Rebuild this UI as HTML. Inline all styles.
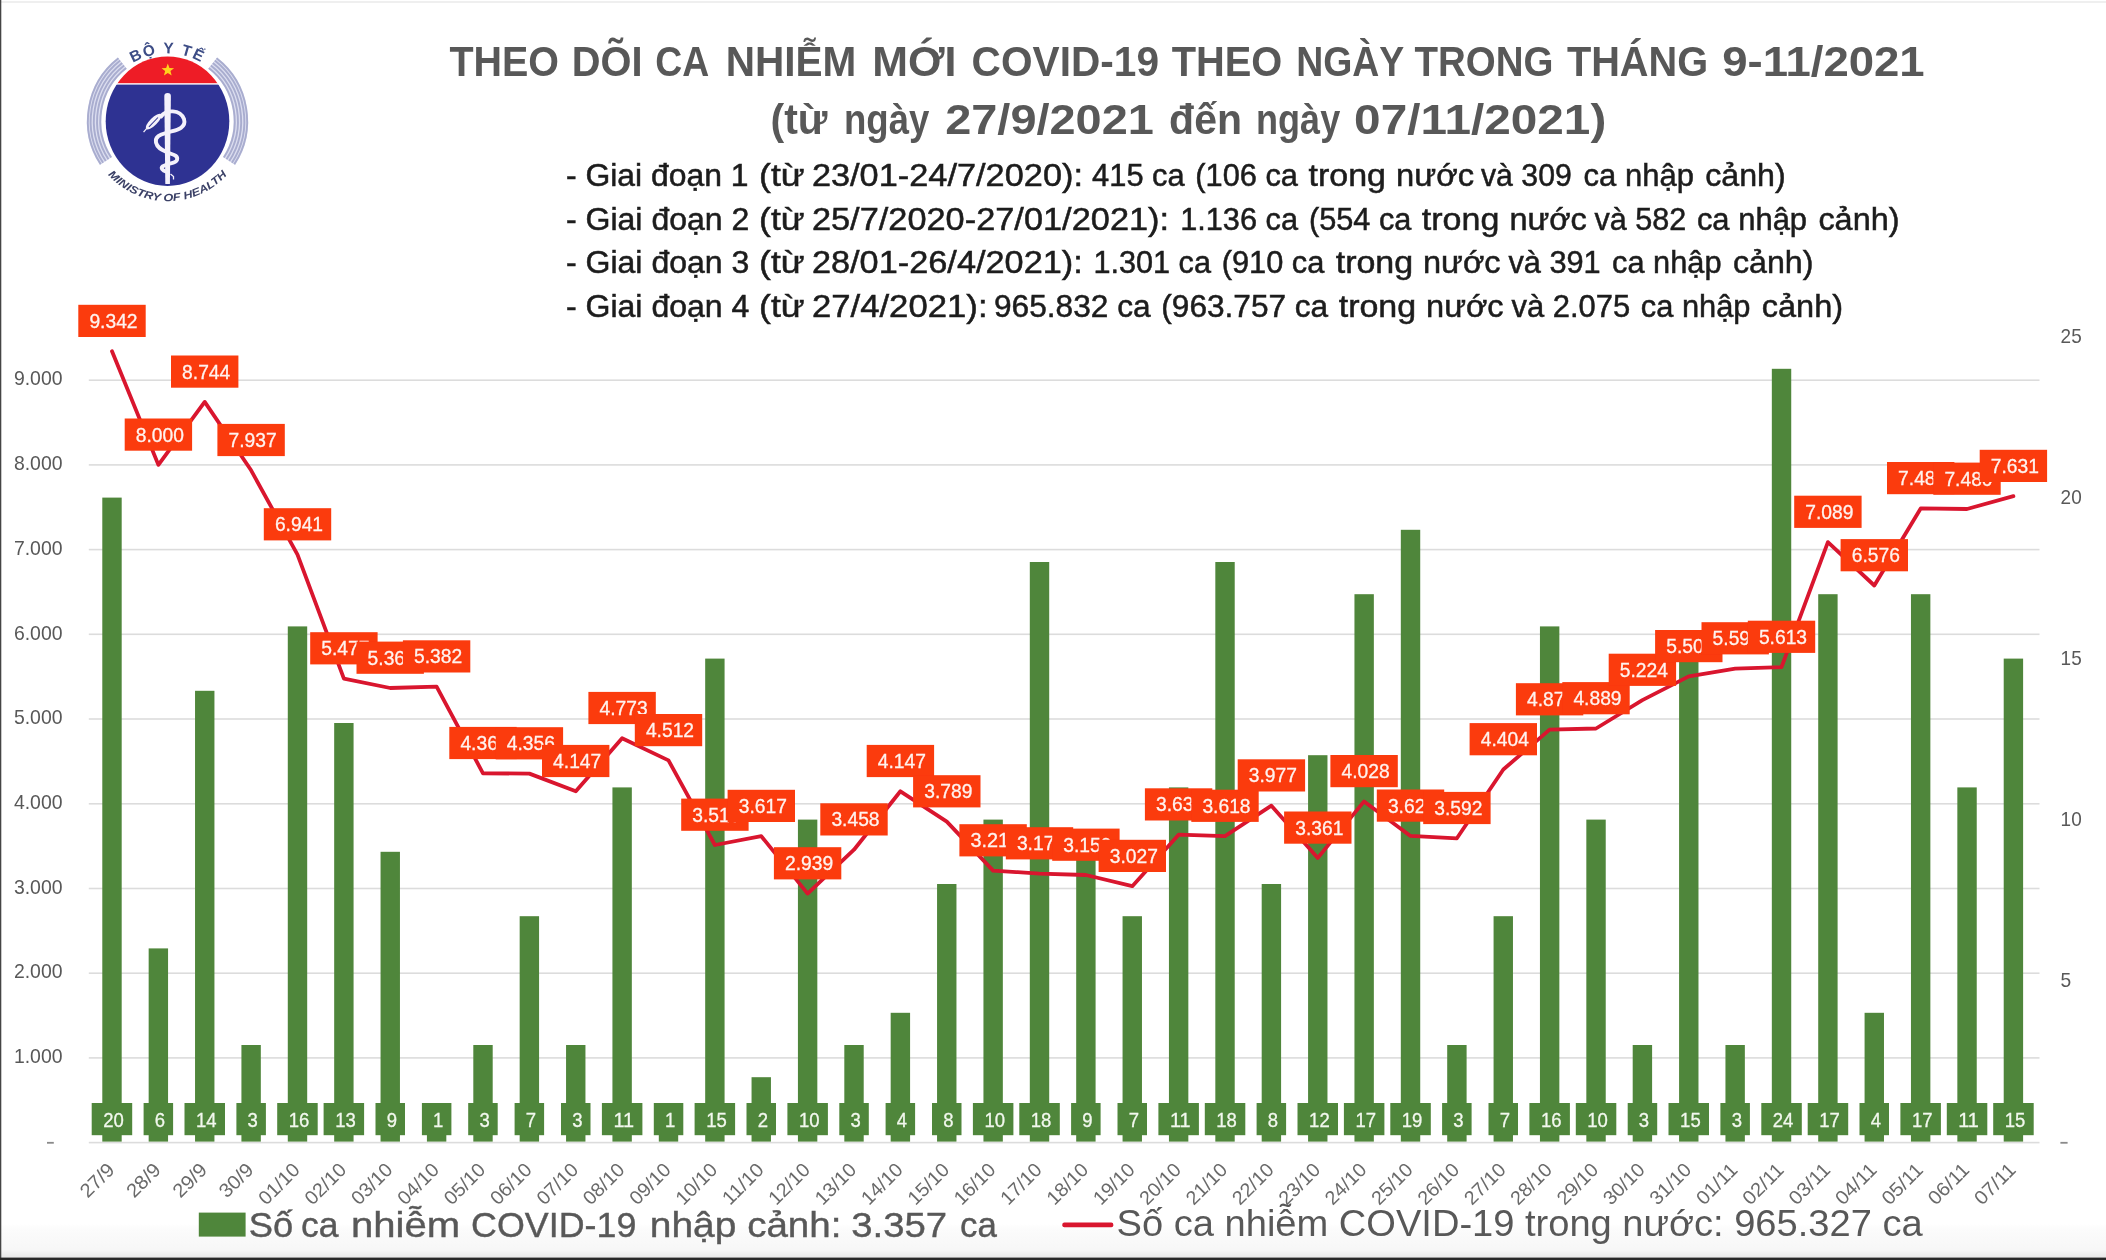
<!DOCTYPE html>
<html lang="vi"><head><meta charset="utf-8"><title>COVID-19</title>
<style>html,body{margin:0;padding:0;background:#fff}svg{display:block}</style></head>
<body>
<svg width="2106" height="1260" viewBox="0 0 2106 1260" font-family='"Liberation Sans", sans-serif'>
<defs><linearGradient id="bg" x1="0" y1="0" x2="0" y2="1"><stop offset="0" stop-color="#ffffff"/><stop offset="0.12" stop-color="#fcfcfc"/><stop offset="0.75" stop-color="#f7f7f7"/><stop offset="1" stop-color="#e6e6e6"/></linearGradient></defs>
<rect width="2106" height="1260" fill="#fff"/>
<filter id="soft" x="0" y="0" width="2106" height="1260" filterUnits="userSpaceOnUse"><feGaussianBlur stdDeviation="0.6"/></filter>
<g filter="url(#soft)">
<rect x="-5" y="-5" width="2116" height="1270" fill="#fff"/>
<rect x="0" y="1224" width="2106" height="34" fill="url(#bg)"/>
<rect x="0" y="1" width="2106" height="2" fill="#efefef"/>
<rect x="88.8" y="1141.8" width="1950.7" height="1.6" fill="#dcdcdc"/>
<rect x="88.8" y="1057.1" width="1950.7" height="1.6" fill="#dcdcdc"/>
<rect x="88.8" y="972.4" width="1950.7" height="1.6" fill="#dcdcdc"/>
<rect x="88.8" y="887.7" width="1950.7" height="1.6" fill="#dcdcdc"/>
<rect x="88.8" y="803.0" width="1950.7" height="1.6" fill="#dcdcdc"/>
<rect x="88.8" y="718.2" width="1950.7" height="1.6" fill="#dcdcdc"/>
<rect x="88.8" y="633.5" width="1950.7" height="1.6" fill="#dcdcdc"/>
<rect x="88.8" y="548.8" width="1950.7" height="1.6" fill="#dcdcdc"/>
<rect x="88.8" y="464.1" width="1950.7" height="1.6" fill="#dcdcdc"/>
<rect x="88.8" y="379.4" width="1950.7" height="1.6" fill="#dcdcdc"/>
<rect x="102.29" y="497.60" width="19.40" height="644.00" fill="#50863b"/>
<rect x="148.66" y="948.40" width="19.40" height="193.20" fill="#50863b"/>
<rect x="195.04" y="690.80" width="19.40" height="450.80" fill="#50863b"/>
<rect x="241.42" y="1045.00" width="19.40" height="96.60" fill="#50863b"/>
<rect x="287.79" y="626.40" width="19.40" height="515.20" fill="#50863b"/>
<rect x="334.17" y="723.00" width="19.40" height="418.60" fill="#50863b"/>
<rect x="380.55" y="851.80" width="19.40" height="289.80" fill="#50863b"/>
<rect x="426.92" y="1109.40" width="19.40" height="32.20" fill="#50863b"/>
<rect x="473.30" y="1045.00" width="19.40" height="96.60" fill="#50863b"/>
<rect x="519.67" y="916.20" width="19.40" height="225.40" fill="#50863b"/>
<rect x="566.05" y="1045.00" width="19.40" height="96.60" fill="#50863b"/>
<rect x="612.43" y="787.40" width="19.40" height="354.20" fill="#50863b"/>
<rect x="658.80" y="1109.40" width="19.40" height="32.20" fill="#50863b"/>
<rect x="705.18" y="658.60" width="19.40" height="483.00" fill="#50863b"/>
<rect x="751.55" y="1077.20" width="19.40" height="64.40" fill="#50863b"/>
<rect x="797.93" y="819.60" width="19.40" height="322.00" fill="#50863b"/>
<rect x="844.31" y="1045.00" width="19.40" height="96.60" fill="#50863b"/>
<rect x="890.68" y="1012.80" width="19.40" height="128.80" fill="#50863b"/>
<rect x="937.06" y="884.00" width="19.40" height="257.60" fill="#50863b"/>
<rect x="983.44" y="819.60" width="19.40" height="322.00" fill="#50863b"/>
<rect x="1029.81" y="562.00" width="19.40" height="579.60" fill="#50863b"/>
<rect x="1076.19" y="851.80" width="19.40" height="289.80" fill="#50863b"/>
<rect x="1122.56" y="916.20" width="19.40" height="225.40" fill="#50863b"/>
<rect x="1168.94" y="787.40" width="19.40" height="354.20" fill="#50863b"/>
<rect x="1215.32" y="562.00" width="19.40" height="579.60" fill="#50863b"/>
<rect x="1261.69" y="884.00" width="19.40" height="257.60" fill="#50863b"/>
<rect x="1308.07" y="755.20" width="19.40" height="386.40" fill="#50863b"/>
<rect x="1354.45" y="594.20" width="19.40" height="547.40" fill="#50863b"/>
<rect x="1400.82" y="529.80" width="19.40" height="611.80" fill="#50863b"/>
<rect x="1447.20" y="1045.00" width="19.40" height="96.60" fill="#50863b"/>
<rect x="1493.57" y="916.20" width="19.40" height="225.40" fill="#50863b"/>
<rect x="1539.95" y="626.40" width="19.40" height="515.20" fill="#50863b"/>
<rect x="1586.33" y="819.60" width="19.40" height="322.00" fill="#50863b"/>
<rect x="1632.70" y="1045.00" width="19.40" height="96.60" fill="#50863b"/>
<rect x="1679.08" y="658.60" width="19.40" height="483.00" fill="#50863b"/>
<rect x="1725.45" y="1045.00" width="19.40" height="96.60" fill="#50863b"/>
<rect x="1771.83" y="368.80" width="19.40" height="772.80" fill="#50863b"/>
<rect x="1818.21" y="594.20" width="19.40" height="547.40" fill="#50863b"/>
<rect x="1864.58" y="1012.80" width="19.40" height="128.80" fill="#50863b"/>
<rect x="1910.96" y="594.20" width="19.40" height="547.40" fill="#50863b"/>
<rect x="1957.34" y="787.40" width="19.40" height="354.20" fill="#50863b"/>
<rect x="2003.71" y="658.60" width="19.40" height="483.00" fill="#50863b"/>
<polyline points="112.0,351.2 158.4,464.9 204.7,401.9 251.1,470.3 297.5,554.6 343.9,678.6 390.2,688.0 436.6,686.7 483.0,773.3 529.4,773.6 575.8,791.3 622.1,738.3 668.5,760.4 714.9,845.0 761.3,836.2 807.6,893.6 854.0,849.7 900.4,791.3 946.8,821.6 993.1,870.6 1039.5,873.6 1085.9,875.0 1132.3,886.2 1178.6,834.7 1225.0,836.1 1271.4,805.7 1317.8,857.9 1364.1,801.4 1410.5,835.9 1456.9,838.3 1503.3,769.5 1549.6,729.6 1596.0,728.5 1642.4,700.1 1688.8,676.4 1735.2,668.6 1781.5,667.1 1827.9,542.1 1874.3,585.5 1920.7,508.4 1967.0,509.0 2013.4,496.2" fill="none" stroke="#d9142f" stroke-width="3.8" stroke-linejoin="round" stroke-linecap="round"/>
<rect x="91.7" y="1103" width="40.5" height="32.2" fill="#50863b"/>
<text x="113.6" y="1126.8" font-size="20" fill="#f2f8ee" stroke="#f2f8ee" stroke-width="0.3" text-anchor="middle" textLength="20.6" lengthAdjust="spacingAndGlyphs">20</text>
<rect x="143.6" y="1103" width="29.5" height="32.2" fill="#50863b"/>
<text x="160.0" y="1126.8" font-size="20" fill="#f2f8ee" stroke="#f2f8ee" stroke-width="0.3" text-anchor="middle" textLength="10.3" lengthAdjust="spacingAndGlyphs">6</text>
<rect x="184.5" y="1103" width="40.5" height="32.2" fill="#50863b"/>
<text x="206.3" y="1126.8" font-size="20" fill="#f2f8ee" stroke="#f2f8ee" stroke-width="0.3" text-anchor="middle" textLength="20.6" lengthAdjust="spacingAndGlyphs">14</text>
<rect x="236.4" y="1103" width="29.5" height="32.2" fill="#50863b"/>
<text x="252.7" y="1126.8" font-size="20" fill="#f2f8ee" stroke="#f2f8ee" stroke-width="0.3" text-anchor="middle" textLength="10.3" lengthAdjust="spacingAndGlyphs">3</text>
<rect x="277.2" y="1103" width="40.5" height="32.2" fill="#50863b"/>
<text x="299.1" y="1126.8" font-size="20" fill="#f2f8ee" stroke="#f2f8ee" stroke-width="0.3" text-anchor="middle" textLength="20.6" lengthAdjust="spacingAndGlyphs">16</text>
<rect x="323.6" y="1103" width="40.5" height="32.2" fill="#50863b"/>
<text x="345.5" y="1126.8" font-size="20" fill="#f2f8ee" stroke="#f2f8ee" stroke-width="0.3" text-anchor="middle" textLength="20.6" lengthAdjust="spacingAndGlyphs">13</text>
<rect x="375.5" y="1103" width="29.5" height="32.2" fill="#50863b"/>
<text x="391.8" y="1126.8" font-size="20" fill="#f2f8ee" stroke="#f2f8ee" stroke-width="0.3" text-anchor="middle" textLength="10.3" lengthAdjust="spacingAndGlyphs">9</text>
<rect x="421.9" y="1103" width="29.5" height="32.2" fill="#50863b"/>
<text x="438.2" y="1126.8" font-size="20" fill="#f2f8ee" stroke="#f2f8ee" stroke-width="0.3" text-anchor="middle" textLength="10.3" lengthAdjust="spacingAndGlyphs">1</text>
<rect x="468.2" y="1103" width="29.5" height="32.2" fill="#50863b"/>
<text x="484.6" y="1126.8" font-size="20" fill="#f2f8ee" stroke="#f2f8ee" stroke-width="0.3" text-anchor="middle" textLength="10.3" lengthAdjust="spacingAndGlyphs">3</text>
<rect x="514.6" y="1103" width="29.5" height="32.2" fill="#50863b"/>
<text x="531.0" y="1126.8" font-size="20" fill="#f2f8ee" stroke="#f2f8ee" stroke-width="0.3" text-anchor="middle" textLength="10.3" lengthAdjust="spacingAndGlyphs">7</text>
<rect x="561.0" y="1103" width="29.5" height="32.2" fill="#50863b"/>
<text x="577.4" y="1126.8" font-size="20" fill="#f2f8ee" stroke="#f2f8ee" stroke-width="0.3" text-anchor="middle" textLength="10.3" lengthAdjust="spacingAndGlyphs">3</text>
<rect x="601.9" y="1103" width="40.5" height="32.2" fill="#50863b"/>
<text x="623.7" y="1126.8" font-size="20" fill="#f2f8ee" stroke="#f2f8ee" stroke-width="0.3" text-anchor="middle" textLength="20.6" lengthAdjust="spacingAndGlyphs">11</text>
<rect x="653.8" y="1103" width="29.5" height="32.2" fill="#50863b"/>
<text x="670.1" y="1126.8" font-size="20" fill="#f2f8ee" stroke="#f2f8ee" stroke-width="0.3" text-anchor="middle" textLength="10.3" lengthAdjust="spacingAndGlyphs">1</text>
<rect x="694.6" y="1103" width="40.5" height="32.2" fill="#50863b"/>
<text x="716.5" y="1126.8" font-size="20" fill="#f2f8ee" stroke="#f2f8ee" stroke-width="0.3" text-anchor="middle" textLength="20.6" lengthAdjust="spacingAndGlyphs">15</text>
<rect x="746.5" y="1103" width="29.5" height="32.2" fill="#50863b"/>
<text x="762.9" y="1126.8" font-size="20" fill="#f2f8ee" stroke="#f2f8ee" stroke-width="0.3" text-anchor="middle" textLength="10.3" lengthAdjust="spacingAndGlyphs">2</text>
<rect x="787.4" y="1103" width="40.5" height="32.2" fill="#50863b"/>
<text x="809.2" y="1126.8" font-size="20" fill="#f2f8ee" stroke="#f2f8ee" stroke-width="0.3" text-anchor="middle" textLength="20.6" lengthAdjust="spacingAndGlyphs">10</text>
<rect x="839.3" y="1103" width="29.5" height="32.2" fill="#50863b"/>
<text x="855.6" y="1126.8" font-size="20" fill="#f2f8ee" stroke="#f2f8ee" stroke-width="0.3" text-anchor="middle" textLength="10.3" lengthAdjust="spacingAndGlyphs">3</text>
<rect x="885.6" y="1103" width="29.5" height="32.2" fill="#50863b"/>
<text x="902.0" y="1126.8" font-size="20" fill="#f2f8ee" stroke="#f2f8ee" stroke-width="0.3" text-anchor="middle" textLength="10.3" lengthAdjust="spacingAndGlyphs">4</text>
<rect x="932.0" y="1103" width="29.5" height="32.2" fill="#50863b"/>
<text x="948.4" y="1126.8" font-size="20" fill="#f2f8ee" stroke="#f2f8ee" stroke-width="0.3" text-anchor="middle" textLength="10.3" lengthAdjust="spacingAndGlyphs">8</text>
<rect x="972.9" y="1103" width="40.5" height="32.2" fill="#50863b"/>
<text x="994.7" y="1126.8" font-size="20" fill="#f2f8ee" stroke="#f2f8ee" stroke-width="0.3" text-anchor="middle" textLength="20.6" lengthAdjust="spacingAndGlyphs">10</text>
<rect x="1019.3" y="1103" width="40.5" height="32.2" fill="#50863b"/>
<text x="1041.1" y="1126.8" font-size="20" fill="#f2f8ee" stroke="#f2f8ee" stroke-width="0.3" text-anchor="middle" textLength="20.6" lengthAdjust="spacingAndGlyphs">18</text>
<rect x="1071.1" y="1103" width="29.5" height="32.2" fill="#50863b"/>
<text x="1087.5" y="1126.8" font-size="20" fill="#f2f8ee" stroke="#f2f8ee" stroke-width="0.3" text-anchor="middle" textLength="10.3" lengthAdjust="spacingAndGlyphs">9</text>
<rect x="1117.5" y="1103" width="29.5" height="32.2" fill="#50863b"/>
<text x="1133.9" y="1126.8" font-size="20" fill="#f2f8ee" stroke="#f2f8ee" stroke-width="0.3" text-anchor="middle" textLength="10.3" lengthAdjust="spacingAndGlyphs">7</text>
<rect x="1158.4" y="1103" width="40.5" height="32.2" fill="#50863b"/>
<text x="1180.2" y="1126.8" font-size="20" fill="#f2f8ee" stroke="#f2f8ee" stroke-width="0.3" text-anchor="middle" textLength="20.6" lengthAdjust="spacingAndGlyphs">11</text>
<rect x="1204.8" y="1103" width="40.5" height="32.2" fill="#50863b"/>
<text x="1226.6" y="1126.8" font-size="20" fill="#f2f8ee" stroke="#f2f8ee" stroke-width="0.3" text-anchor="middle" textLength="20.6" lengthAdjust="spacingAndGlyphs">18</text>
<rect x="1256.6" y="1103" width="29.5" height="32.2" fill="#50863b"/>
<text x="1273.0" y="1126.8" font-size="20" fill="#f2f8ee" stroke="#f2f8ee" stroke-width="0.3" text-anchor="middle" textLength="10.3" lengthAdjust="spacingAndGlyphs">8</text>
<rect x="1297.5" y="1103" width="40.5" height="32.2" fill="#50863b"/>
<text x="1319.4" y="1126.8" font-size="20" fill="#f2f8ee" stroke="#f2f8ee" stroke-width="0.3" text-anchor="middle" textLength="20.6" lengthAdjust="spacingAndGlyphs">12</text>
<rect x="1343.9" y="1103" width="40.5" height="32.2" fill="#50863b"/>
<text x="1365.7" y="1126.8" font-size="20" fill="#f2f8ee" stroke="#f2f8ee" stroke-width="0.3" text-anchor="middle" textLength="20.6" lengthAdjust="spacingAndGlyphs">17</text>
<rect x="1390.3" y="1103" width="40.5" height="32.2" fill="#50863b"/>
<text x="1412.1" y="1126.8" font-size="20" fill="#f2f8ee" stroke="#f2f8ee" stroke-width="0.3" text-anchor="middle" textLength="20.6" lengthAdjust="spacingAndGlyphs">19</text>
<rect x="1442.1" y="1103" width="29.5" height="32.2" fill="#50863b"/>
<text x="1458.5" y="1126.8" font-size="20" fill="#f2f8ee" stroke="#f2f8ee" stroke-width="0.3" text-anchor="middle" textLength="10.3" lengthAdjust="spacingAndGlyphs">3</text>
<rect x="1488.5" y="1103" width="29.5" height="32.2" fill="#50863b"/>
<text x="1504.9" y="1126.8" font-size="20" fill="#f2f8ee" stroke="#f2f8ee" stroke-width="0.3" text-anchor="middle" textLength="10.3" lengthAdjust="spacingAndGlyphs">7</text>
<rect x="1529.4" y="1103" width="40.5" height="32.2" fill="#50863b"/>
<text x="1551.2" y="1126.8" font-size="20" fill="#f2f8ee" stroke="#f2f8ee" stroke-width="0.3" text-anchor="middle" textLength="20.6" lengthAdjust="spacingAndGlyphs">16</text>
<rect x="1575.8" y="1103" width="40.5" height="32.2" fill="#50863b"/>
<text x="1597.6" y="1126.8" font-size="20" fill="#f2f8ee" stroke="#f2f8ee" stroke-width="0.3" text-anchor="middle" textLength="20.6" lengthAdjust="spacingAndGlyphs">10</text>
<rect x="1627.7" y="1103" width="29.5" height="32.2" fill="#50863b"/>
<text x="1644.0" y="1126.8" font-size="20" fill="#f2f8ee" stroke="#f2f8ee" stroke-width="0.3" text-anchor="middle" textLength="10.3" lengthAdjust="spacingAndGlyphs">3</text>
<rect x="1668.5" y="1103" width="40.5" height="32.2" fill="#50863b"/>
<text x="1690.4" y="1126.8" font-size="20" fill="#f2f8ee" stroke="#f2f8ee" stroke-width="0.3" text-anchor="middle" textLength="20.6" lengthAdjust="spacingAndGlyphs">15</text>
<rect x="1720.4" y="1103" width="29.5" height="32.2" fill="#50863b"/>
<text x="1736.8" y="1126.8" font-size="20" fill="#f2f8ee" stroke="#f2f8ee" stroke-width="0.3" text-anchor="middle" textLength="10.3" lengthAdjust="spacingAndGlyphs">3</text>
<rect x="1761.3" y="1103" width="40.5" height="32.2" fill="#50863b"/>
<text x="1783.1" y="1126.8" font-size="20" fill="#f2f8ee" stroke="#f2f8ee" stroke-width="0.3" text-anchor="middle" textLength="20.6" lengthAdjust="spacingAndGlyphs">24</text>
<rect x="1807.7" y="1103" width="40.5" height="32.2" fill="#50863b"/>
<text x="1829.5" y="1126.8" font-size="20" fill="#f2f8ee" stroke="#f2f8ee" stroke-width="0.3" text-anchor="middle" textLength="20.6" lengthAdjust="spacingAndGlyphs">17</text>
<rect x="1859.5" y="1103" width="29.5" height="32.2" fill="#50863b"/>
<text x="1875.9" y="1126.8" font-size="20" fill="#f2f8ee" stroke="#f2f8ee" stroke-width="0.3" text-anchor="middle" textLength="10.3" lengthAdjust="spacingAndGlyphs">4</text>
<rect x="1900.4" y="1103" width="40.5" height="32.2" fill="#50863b"/>
<text x="1922.3" y="1126.8" font-size="20" fill="#f2f8ee" stroke="#f2f8ee" stroke-width="0.3" text-anchor="middle" textLength="20.6" lengthAdjust="spacingAndGlyphs">17</text>
<rect x="1946.8" y="1103" width="40.5" height="32.2" fill="#50863b"/>
<text x="1968.6" y="1126.8" font-size="20" fill="#f2f8ee" stroke="#f2f8ee" stroke-width="0.3" text-anchor="middle" textLength="20.6" lengthAdjust="spacingAndGlyphs">11</text>
<rect x="1993.2" y="1103" width="40.5" height="32.2" fill="#50863b"/>
<text x="2015.0" y="1126.8" font-size="20" fill="#f2f8ee" stroke="#f2f8ee" stroke-width="0.3" text-anchor="middle" textLength="20.6" lengthAdjust="spacingAndGlyphs">15</text>
<rect x="78.3" y="304.8" width="67.4" height="32.2" fill="#fb3a10"/>
<text x="113.5" y="327.9" font-size="19.6" fill="#fff3ee" stroke="#fff3ee" stroke-width="0.3" text-anchor="middle" textLength="48.2" lengthAdjust="spacingAndGlyphs">9.342</text>
<rect x="124.7" y="418.5" width="67.4" height="32.2" fill="#fb3a10"/>
<text x="159.9" y="441.6" font-size="19.6" fill="#fff3ee" stroke="#fff3ee" stroke-width="0.3" text-anchor="middle" textLength="48.2" lengthAdjust="spacingAndGlyphs">8.000</text>
<rect x="171.0" y="355.5" width="67.4" height="32.2" fill="#fb3a10"/>
<text x="206.2" y="378.6" font-size="19.6" fill="#fff3ee" stroke="#fff3ee" stroke-width="0.3" text-anchor="middle" textLength="48.2" lengthAdjust="spacingAndGlyphs">8.744</text>
<rect x="217.4" y="423.9" width="67.4" height="32.2" fill="#fb3a10"/>
<text x="252.6" y="447.0" font-size="19.6" fill="#fff3ee" stroke="#fff3ee" stroke-width="0.3" text-anchor="middle" textLength="48.2" lengthAdjust="spacingAndGlyphs">7.937</text>
<rect x="263.8" y="508.2" width="67.4" height="32.2" fill="#fb3a10"/>
<text x="299.0" y="531.3" font-size="19.6" fill="#fff3ee" stroke="#fff3ee" stroke-width="0.3" text-anchor="middle" textLength="48.2" lengthAdjust="spacingAndGlyphs">6.941</text>
<rect x="310.2" y="632.2" width="67.4" height="32.2" fill="#fb3a10"/>
<text x="345.4" y="655.3" font-size="19.6" fill="#fff3ee" stroke="#fff3ee" stroke-width="0.3" text-anchor="middle" textLength="48.2" lengthAdjust="spacingAndGlyphs">5.477</text>
<rect x="356.5" y="641.6" width="67.4" height="32.2" fill="#fb3a10"/>
<text x="391.7" y="664.7" font-size="19.6" fill="#fff3ee" stroke="#fff3ee" stroke-width="0.3" text-anchor="middle" textLength="48.2" lengthAdjust="spacingAndGlyphs">5.367</text>
<rect x="402.9" y="640.3" width="67.4" height="32.2" fill="#fb3a10"/>
<text x="438.1" y="663.4" font-size="19.6" fill="#fff3ee" stroke="#fff3ee" stroke-width="0.3" text-anchor="middle" textLength="48.2" lengthAdjust="spacingAndGlyphs">5.382</text>
<rect x="449.3" y="726.9" width="67.4" height="32.2" fill="#fb3a10"/>
<text x="484.5" y="750.0" font-size="19.6" fill="#fff3ee" stroke="#fff3ee" stroke-width="0.3" text-anchor="middle" textLength="48.2" lengthAdjust="spacingAndGlyphs">4.360</text>
<rect x="495.7" y="727.2" width="67.4" height="32.2" fill="#fb3a10"/>
<text x="530.9" y="750.3" font-size="19.6" fill="#fff3ee" stroke="#fff3ee" stroke-width="0.3" text-anchor="middle" textLength="48.2" lengthAdjust="spacingAndGlyphs">4.356</text>
<rect x="542.0" y="744.9" width="67.4" height="32.2" fill="#fb3a10"/>
<text x="577.2" y="768.0" font-size="19.6" fill="#fff3ee" stroke="#fff3ee" stroke-width="0.3" text-anchor="middle" textLength="48.2" lengthAdjust="spacingAndGlyphs">4.147</text>
<rect x="588.4" y="691.9" width="67.4" height="32.2" fill="#fb3a10"/>
<text x="623.6" y="715.0" font-size="19.6" fill="#fff3ee" stroke="#fff3ee" stroke-width="0.3" text-anchor="middle" textLength="48.2" lengthAdjust="spacingAndGlyphs">4.773</text>
<rect x="634.8" y="714.0" width="67.4" height="32.2" fill="#fb3a10"/>
<text x="670.0" y="737.1" font-size="19.6" fill="#fff3ee" stroke="#fff3ee" stroke-width="0.3" text-anchor="middle" textLength="48.2" lengthAdjust="spacingAndGlyphs">4.512</text>
<rect x="681.2" y="798.6" width="67.4" height="32.2" fill="#fb3a10"/>
<text x="716.4" y="821.7" font-size="19.6" fill="#fff3ee" stroke="#fff3ee" stroke-width="0.3" text-anchor="middle" textLength="48.2" lengthAdjust="spacingAndGlyphs">3.513</text>
<rect x="727.6" y="789.8" width="67.4" height="32.2" fill="#fb3a10"/>
<text x="762.8" y="812.9" font-size="19.6" fill="#fff3ee" stroke="#fff3ee" stroke-width="0.3" text-anchor="middle" textLength="48.2" lengthAdjust="spacingAndGlyphs">3.617</text>
<rect x="773.9" y="847.2" width="67.4" height="32.2" fill="#fb3a10"/>
<text x="809.1" y="870.3" font-size="19.6" fill="#fff3ee" stroke="#fff3ee" stroke-width="0.3" text-anchor="middle" textLength="48.2" lengthAdjust="spacingAndGlyphs">2.939</text>
<rect x="820.3" y="803.3" width="67.4" height="32.2" fill="#fb3a10"/>
<text x="855.5" y="826.4" font-size="19.6" fill="#fff3ee" stroke="#fff3ee" stroke-width="0.3" text-anchor="middle" textLength="48.2" lengthAdjust="spacingAndGlyphs">3.458</text>
<rect x="866.7" y="744.9" width="67.4" height="32.2" fill="#fb3a10"/>
<text x="901.9" y="768.0" font-size="19.6" fill="#fff3ee" stroke="#fff3ee" stroke-width="0.3" text-anchor="middle" textLength="48.2" lengthAdjust="spacingAndGlyphs">4.147</text>
<rect x="913.1" y="775.2" width="67.4" height="32.2" fill="#fb3a10"/>
<text x="948.3" y="798.3" font-size="19.6" fill="#fff3ee" stroke="#fff3ee" stroke-width="0.3" text-anchor="middle" textLength="48.2" lengthAdjust="spacingAndGlyphs">3.789</text>
<rect x="959.4" y="824.2" width="67.4" height="32.2" fill="#fb3a10"/>
<text x="994.6" y="847.3" font-size="19.6" fill="#fff3ee" stroke="#fff3ee" stroke-width="0.3" text-anchor="middle" textLength="48.2" lengthAdjust="spacingAndGlyphs">3.211</text>
<rect x="1005.8" y="827.2" width="67.4" height="32.2" fill="#fb3a10"/>
<text x="1041.0" y="850.3" font-size="19.6" fill="#fff3ee" stroke="#fff3ee" stroke-width="0.3" text-anchor="middle" textLength="48.2" lengthAdjust="spacingAndGlyphs">3.175</text>
<rect x="1052.2" y="828.6" width="67.4" height="32.2" fill="#fb3a10"/>
<text x="1087.4" y="851.7" font-size="19.6" fill="#fff3ee" stroke="#fff3ee" stroke-width="0.3" text-anchor="middle" textLength="48.2" lengthAdjust="spacingAndGlyphs">3.159</text>
<rect x="1098.6" y="839.8" width="67.4" height="32.2" fill="#fb3a10"/>
<text x="1133.8" y="862.9" font-size="19.6" fill="#fff3ee" stroke="#fff3ee" stroke-width="0.3" text-anchor="middle" textLength="48.2" lengthAdjust="spacingAndGlyphs">3.027</text>
<rect x="1144.9" y="788.3" width="67.4" height="32.2" fill="#fb3a10"/>
<text x="1180.1" y="811.4" font-size="19.6" fill="#fff3ee" stroke="#fff3ee" stroke-width="0.3" text-anchor="middle" textLength="48.2" lengthAdjust="spacingAndGlyphs">3.635</text>
<rect x="1191.3" y="789.7" width="67.4" height="32.2" fill="#fb3a10"/>
<text x="1226.5" y="812.8" font-size="19.6" fill="#fff3ee" stroke="#fff3ee" stroke-width="0.3" text-anchor="middle" textLength="48.2" lengthAdjust="spacingAndGlyphs">3.618</text>
<rect x="1237.7" y="759.3" width="67.4" height="32.2" fill="#fb3a10"/>
<text x="1272.9" y="782.4" font-size="19.6" fill="#fff3ee" stroke="#fff3ee" stroke-width="0.3" text-anchor="middle" textLength="48.2" lengthAdjust="spacingAndGlyphs">3.977</text>
<rect x="1284.1" y="811.5" width="67.4" height="32.2" fill="#fb3a10"/>
<text x="1319.3" y="834.6" font-size="19.6" fill="#fff3ee" stroke="#fff3ee" stroke-width="0.3" text-anchor="middle" textLength="48.2" lengthAdjust="spacingAndGlyphs">3.361</text>
<rect x="1330.4" y="755.0" width="67.4" height="32.2" fill="#fb3a10"/>
<text x="1365.6" y="778.1" font-size="19.6" fill="#fff3ee" stroke="#fff3ee" stroke-width="0.3" text-anchor="middle" textLength="48.2" lengthAdjust="spacingAndGlyphs">4.028</text>
<rect x="1376.8" y="789.5" width="67.4" height="32.2" fill="#fb3a10"/>
<text x="1412.0" y="812.6" font-size="19.6" fill="#fff3ee" stroke="#fff3ee" stroke-width="0.3" text-anchor="middle" textLength="48.2" lengthAdjust="spacingAndGlyphs">3.620</text>
<rect x="1423.2" y="791.9" width="67.4" height="32.2" fill="#fb3a10"/>
<text x="1458.4" y="815.0" font-size="19.6" fill="#fff3ee" stroke="#fff3ee" stroke-width="0.3" text-anchor="middle" textLength="48.2" lengthAdjust="spacingAndGlyphs">3.592</text>
<rect x="1469.6" y="723.1" width="67.4" height="32.2" fill="#fb3a10"/>
<text x="1504.8" y="746.2" font-size="19.6" fill="#fff3ee" stroke="#fff3ee" stroke-width="0.3" text-anchor="middle" textLength="48.2" lengthAdjust="spacingAndGlyphs">4.404</text>
<rect x="1515.9" y="683.2" width="67.4" height="32.2" fill="#fb3a10"/>
<text x="1551.1" y="706.3" font-size="19.6" fill="#fff3ee" stroke="#fff3ee" stroke-width="0.3" text-anchor="middle" textLength="48.2" lengthAdjust="spacingAndGlyphs">4.876</text>
<rect x="1562.3" y="682.1" width="67.4" height="32.2" fill="#fb3a10"/>
<text x="1597.5" y="705.2" font-size="19.6" fill="#fff3ee" stroke="#fff3ee" stroke-width="0.3" text-anchor="middle" textLength="48.2" lengthAdjust="spacingAndGlyphs">4.889</text>
<rect x="1608.7" y="653.7" width="67.4" height="32.2" fill="#fb3a10"/>
<text x="1643.9" y="676.8" font-size="19.6" fill="#fff3ee" stroke="#fff3ee" stroke-width="0.3" text-anchor="middle" textLength="48.2" lengthAdjust="spacingAndGlyphs">5.224</text>
<rect x="1655.1" y="630.0" width="67.4" height="32.2" fill="#fb3a10"/>
<text x="1690.3" y="653.1" font-size="19.6" fill="#fff3ee" stroke="#fff3ee" stroke-width="0.3" text-anchor="middle" textLength="48.2" lengthAdjust="spacingAndGlyphs">5.504</text>
<rect x="1701.5" y="622.2" width="67.4" height="32.2" fill="#fb3a10"/>
<text x="1736.7" y="645.3" font-size="19.6" fill="#fff3ee" stroke="#fff3ee" stroke-width="0.3" text-anchor="middle" textLength="48.2" lengthAdjust="spacingAndGlyphs">5.595</text>
<rect x="1747.8" y="620.7" width="67.4" height="32.2" fill="#fb3a10"/>
<text x="1783.0" y="643.8" font-size="19.6" fill="#fff3ee" stroke="#fff3ee" stroke-width="0.3" text-anchor="middle" textLength="48.2" lengthAdjust="spacingAndGlyphs">5.613</text>
<rect x="1794.2" y="495.7" width="67.4" height="32.2" fill="#fb3a10"/>
<text x="1829.4" y="518.8" font-size="19.6" fill="#fff3ee" stroke="#fff3ee" stroke-width="0.3" text-anchor="middle" textLength="48.2" lengthAdjust="spacingAndGlyphs">7.089</text>
<rect x="1840.6" y="539.1" width="67.4" height="32.2" fill="#fb3a10"/>
<text x="1875.8" y="562.2" font-size="19.6" fill="#fff3ee" stroke="#fff3ee" stroke-width="0.3" text-anchor="middle" textLength="48.2" lengthAdjust="spacingAndGlyphs">6.576</text>
<rect x="1887.0" y="462.0" width="67.4" height="32.2" fill="#fb3a10"/>
<text x="1922.2" y="485.1" font-size="19.6" fill="#fff3ee" stroke="#fff3ee" stroke-width="0.3" text-anchor="middle" textLength="48.2" lengthAdjust="spacingAndGlyphs">7.487</text>
<rect x="1933.3" y="462.6" width="67.4" height="32.2" fill="#fb3a10"/>
<text x="1968.5" y="485.7" font-size="19.6" fill="#fff3ee" stroke="#fff3ee" stroke-width="0.3" text-anchor="middle" textLength="48.2" lengthAdjust="spacingAndGlyphs">7.480</text>
<rect x="1979.7" y="449.8" width="67.4" height="32.2" fill="#fb3a10"/>
<text x="2014.9" y="472.9" font-size="19.6" fill="#fff3ee" stroke="#fff3ee" stroke-width="0.3" text-anchor="middle" textLength="48.2" lengthAdjust="spacingAndGlyphs">7.631</text>
<text x="62.5" y="1063.1" font-size="19.8" fill="#595959" text-anchor="end" textLength="48.6" lengthAdjust="spacingAndGlyphs">1.000</text>
<text x="62.5" y="978.4" font-size="19.8" fill="#595959" text-anchor="end" textLength="48.6" lengthAdjust="spacingAndGlyphs">2.000</text>
<text x="62.5" y="893.7" font-size="19.8" fill="#595959" text-anchor="end" textLength="48.6" lengthAdjust="spacingAndGlyphs">3.000</text>
<text x="62.5" y="809.0" font-size="19.8" fill="#595959" text-anchor="end" textLength="48.6" lengthAdjust="spacingAndGlyphs">4.000</text>
<text x="62.5" y="724.2" font-size="19.8" fill="#595959" text-anchor="end" textLength="48.6" lengthAdjust="spacingAndGlyphs">5.000</text>
<text x="62.5" y="639.5" font-size="19.8" fill="#595959" text-anchor="end" textLength="48.6" lengthAdjust="spacingAndGlyphs">6.000</text>
<text x="62.5" y="554.8" font-size="19.8" fill="#595959" text-anchor="end" textLength="48.6" lengthAdjust="spacingAndGlyphs">7.000</text>
<text x="62.5" y="470.1" font-size="19.8" fill="#595959" text-anchor="end" textLength="48.6" lengthAdjust="spacingAndGlyphs">8.000</text>
<text x="62.5" y="385.4" font-size="19.8" fill="#595959" text-anchor="end" textLength="48.6" lengthAdjust="spacingAndGlyphs">9.000</text>
<rect x="47" y="1141.9" width="6.8" height="1.8" fill="#8a8a8a"/>
<rect x="2060.4" y="1141.9" width="7.2" height="1.8" fill="#8a8a8a"/>
<text x="2060.6" y="987.4" font-size="19.8" fill="#595959" textLength="10.7" lengthAdjust="spacingAndGlyphs">5</text>
<text x="2060.6" y="826.4" font-size="19.8" fill="#595959" textLength="21.1" lengthAdjust="spacingAndGlyphs">10</text>
<text x="2060.6" y="665.4" font-size="19.8" fill="#595959" textLength="21.1" lengthAdjust="spacingAndGlyphs">15</text>
<text x="2060.6" y="504.4" font-size="19.8" fill="#595959" textLength="21.1" lengthAdjust="spacingAndGlyphs">20</text>
<text x="2060.6" y="343.4" font-size="19.8" fill="#595959" textLength="21.1" lengthAdjust="spacingAndGlyphs">25</text>
<text transform="translate(115.6,1171.0) rotate(-45)" font-size="19.4" fill="#6a6a6a" text-anchor="end" textLength="39.4" lengthAdjust="spacingAndGlyphs">27/9</text>
<text transform="translate(162.0,1171.0) rotate(-45)" font-size="19.4" fill="#6a6a6a" text-anchor="end" textLength="39.4" lengthAdjust="spacingAndGlyphs">28/9</text>
<text transform="translate(208.3,1171.0) rotate(-45)" font-size="19.4" fill="#6a6a6a" text-anchor="end" textLength="39.4" lengthAdjust="spacingAndGlyphs">29/9</text>
<text transform="translate(254.7,1171.0) rotate(-45)" font-size="19.4" fill="#6a6a6a" text-anchor="end" textLength="39.4" lengthAdjust="spacingAndGlyphs">30/9</text>
<text transform="translate(301.1,1171.0) rotate(-45)" font-size="19.4" fill="#6a6a6a" text-anchor="end" textLength="49.4" lengthAdjust="spacingAndGlyphs">01/10</text>
<text transform="translate(347.5,1171.0) rotate(-45)" font-size="19.4" fill="#6a6a6a" text-anchor="end" textLength="49.4" lengthAdjust="spacingAndGlyphs">02/10</text>
<text transform="translate(393.8,1171.0) rotate(-45)" font-size="19.4" fill="#6a6a6a" text-anchor="end" textLength="49.4" lengthAdjust="spacingAndGlyphs">03/10</text>
<text transform="translate(440.2,1171.0) rotate(-45)" font-size="19.4" fill="#6a6a6a" text-anchor="end" textLength="49.4" lengthAdjust="spacingAndGlyphs">04/10</text>
<text transform="translate(486.6,1171.0) rotate(-45)" font-size="19.4" fill="#6a6a6a" text-anchor="end" textLength="49.4" lengthAdjust="spacingAndGlyphs">05/10</text>
<text transform="translate(533.0,1171.0) rotate(-45)" font-size="19.4" fill="#6a6a6a" text-anchor="end" textLength="49.4" lengthAdjust="spacingAndGlyphs">06/10</text>
<text transform="translate(579.4,1171.0) rotate(-45)" font-size="19.4" fill="#6a6a6a" text-anchor="end" textLength="49.4" lengthAdjust="spacingAndGlyphs">07/10</text>
<text transform="translate(625.7,1171.0) rotate(-45)" font-size="19.4" fill="#6a6a6a" text-anchor="end" textLength="49.4" lengthAdjust="spacingAndGlyphs">08/10</text>
<text transform="translate(672.1,1171.0) rotate(-45)" font-size="19.4" fill="#6a6a6a" text-anchor="end" textLength="49.4" lengthAdjust="spacingAndGlyphs">09/10</text>
<text transform="translate(718.5,1171.0) rotate(-45)" font-size="19.4" fill="#6a6a6a" text-anchor="end" textLength="49.4" lengthAdjust="spacingAndGlyphs">10/10</text>
<text transform="translate(764.9,1171.0) rotate(-45)" font-size="19.4" fill="#6a6a6a" text-anchor="end" textLength="49.4" lengthAdjust="spacingAndGlyphs">11/10</text>
<text transform="translate(811.2,1171.0) rotate(-45)" font-size="19.4" fill="#6a6a6a" text-anchor="end" textLength="49.4" lengthAdjust="spacingAndGlyphs">12/10</text>
<text transform="translate(857.6,1171.0) rotate(-45)" font-size="19.4" fill="#6a6a6a" text-anchor="end" textLength="49.4" lengthAdjust="spacingAndGlyphs">13/10</text>
<text transform="translate(904.0,1171.0) rotate(-45)" font-size="19.4" fill="#6a6a6a" text-anchor="end" textLength="49.4" lengthAdjust="spacingAndGlyphs">14/10</text>
<text transform="translate(950.4,1171.0) rotate(-45)" font-size="19.4" fill="#6a6a6a" text-anchor="end" textLength="49.4" lengthAdjust="spacingAndGlyphs">15/10</text>
<text transform="translate(996.7,1171.0) rotate(-45)" font-size="19.4" fill="#6a6a6a" text-anchor="end" textLength="49.4" lengthAdjust="spacingAndGlyphs">16/10</text>
<text transform="translate(1043.1,1171.0) rotate(-45)" font-size="19.4" fill="#6a6a6a" text-anchor="end" textLength="49.4" lengthAdjust="spacingAndGlyphs">17/10</text>
<text transform="translate(1089.5,1171.0) rotate(-45)" font-size="19.4" fill="#6a6a6a" text-anchor="end" textLength="49.4" lengthAdjust="spacingAndGlyphs">18/10</text>
<text transform="translate(1135.9,1171.0) rotate(-45)" font-size="19.4" fill="#6a6a6a" text-anchor="end" textLength="49.4" lengthAdjust="spacingAndGlyphs">19/10</text>
<text transform="translate(1182.2,1171.0) rotate(-45)" font-size="19.4" fill="#6a6a6a" text-anchor="end" textLength="49.4" lengthAdjust="spacingAndGlyphs">20/10</text>
<text transform="translate(1228.6,1171.0) rotate(-45)" font-size="19.4" fill="#6a6a6a" text-anchor="end" textLength="49.4" lengthAdjust="spacingAndGlyphs">21/10</text>
<text transform="translate(1275.0,1171.0) rotate(-45)" font-size="19.4" fill="#6a6a6a" text-anchor="end" textLength="49.4" lengthAdjust="spacingAndGlyphs">22/10</text>
<text transform="translate(1321.4,1171.0) rotate(-45)" font-size="19.4" fill="#6a6a6a" text-anchor="end" textLength="49.4" lengthAdjust="spacingAndGlyphs">23/10</text>
<text transform="translate(1367.7,1171.0) rotate(-45)" font-size="19.4" fill="#6a6a6a" text-anchor="end" textLength="49.4" lengthAdjust="spacingAndGlyphs">24/10</text>
<text transform="translate(1414.1,1171.0) rotate(-45)" font-size="19.4" fill="#6a6a6a" text-anchor="end" textLength="49.4" lengthAdjust="spacingAndGlyphs">25/10</text>
<text transform="translate(1460.5,1171.0) rotate(-45)" font-size="19.4" fill="#6a6a6a" text-anchor="end" textLength="49.4" lengthAdjust="spacingAndGlyphs">26/10</text>
<text transform="translate(1506.9,1171.0) rotate(-45)" font-size="19.4" fill="#6a6a6a" text-anchor="end" textLength="49.4" lengthAdjust="spacingAndGlyphs">27/10</text>
<text transform="translate(1553.2,1171.0) rotate(-45)" font-size="19.4" fill="#6a6a6a" text-anchor="end" textLength="49.4" lengthAdjust="spacingAndGlyphs">28/10</text>
<text transform="translate(1599.6,1171.0) rotate(-45)" font-size="19.4" fill="#6a6a6a" text-anchor="end" textLength="49.4" lengthAdjust="spacingAndGlyphs">29/10</text>
<text transform="translate(1646.0,1171.0) rotate(-45)" font-size="19.4" fill="#6a6a6a" text-anchor="end" textLength="49.4" lengthAdjust="spacingAndGlyphs">30/10</text>
<text transform="translate(1692.4,1171.0) rotate(-45)" font-size="19.4" fill="#6a6a6a" text-anchor="end" textLength="49.4" lengthAdjust="spacingAndGlyphs">31/10</text>
<text transform="translate(1738.8,1171.0) rotate(-45)" font-size="19.4" fill="#6a6a6a" text-anchor="end" textLength="49.4" lengthAdjust="spacingAndGlyphs">01/11</text>
<text transform="translate(1785.1,1171.0) rotate(-45)" font-size="19.4" fill="#6a6a6a" text-anchor="end" textLength="49.4" lengthAdjust="spacingAndGlyphs">02/11</text>
<text transform="translate(1831.5,1171.0) rotate(-45)" font-size="19.4" fill="#6a6a6a" text-anchor="end" textLength="49.4" lengthAdjust="spacingAndGlyphs">03/11</text>
<text transform="translate(1877.9,1171.0) rotate(-45)" font-size="19.4" fill="#6a6a6a" text-anchor="end" textLength="49.4" lengthAdjust="spacingAndGlyphs">04/11</text>
<text transform="translate(1924.3,1171.0) rotate(-45)" font-size="19.4" fill="#6a6a6a" text-anchor="end" textLength="49.4" lengthAdjust="spacingAndGlyphs">05/11</text>
<text transform="translate(1970.6,1171.0) rotate(-45)" font-size="19.4" fill="#6a6a6a" text-anchor="end" textLength="49.4" lengthAdjust="spacingAndGlyphs">06/11</text>
<text transform="translate(2017.0,1171.0) rotate(-45)" font-size="19.4" fill="#6a6a6a" text-anchor="end" textLength="49.4" lengthAdjust="spacingAndGlyphs">07/11</text>
<rect x="198.8" y="1212.6" width="46.8" height="24" fill="#50863b"/>
<text x="248.8" y="1236.6" font-size="35" fill="#595959" stroke="#595959" stroke-width="0.4" textLength="44.5" lengthAdjust="spacingAndGlyphs">Số</text>
<text x="301.1" y="1236.6" font-size="35" fill="#595959" stroke="#595959" stroke-width="0.4" textLength="37.5" lengthAdjust="spacingAndGlyphs">ca</text>
<text x="350.9" y="1236.6" font-size="35" fill="#595959" stroke="#595959" stroke-width="0.4" textLength="109.2" lengthAdjust="spacingAndGlyphs">nhiễm</text>
<text x="471.1" y="1236.6" font-size="35" fill="#595959" stroke="#595959" stroke-width="0.4" textLength="165.3" lengthAdjust="spacingAndGlyphs">COVID-19</text>
<text x="649.8" y="1236.6" font-size="35" fill="#595959" stroke="#595959" stroke-width="0.4" textLength="86.6" lengthAdjust="spacingAndGlyphs">nhập</text>
<text x="747.2" y="1236.6" font-size="35" fill="#595959" stroke="#595959" stroke-width="0.4" textLength="94.2" lengthAdjust="spacingAndGlyphs">cảnh:</text>
<text x="851.2" y="1236.6" font-size="35" fill="#595959" stroke="#595959" stroke-width="0.4" textLength="95.9" lengthAdjust="spacingAndGlyphs">3.357</text>
<text x="960.0" y="1236.6" font-size="35" fill="#595959" stroke="#595959" stroke-width="0.4" textLength="36.8" lengthAdjust="spacingAndGlyphs">ca</text>
<rect x="1062.3" y="1222.4" width="51" height="4.8" rx="2" fill="#d9142f"/>
<text x="1116.6" y="1235.6" font-size="36.7" fill="#595959" textLength="806" lengthAdjust="spacingAndGlyphs">Số ca nhiễm COVID-19 trong nước: 965.327 ca</text>
<text x="449.4" y="76.2" font-size="42.4" font-weight="bold" fill="#595959" textLength="109.6" lengthAdjust="spacingAndGlyphs">THEO</text>
<text x="571.7" y="76.2" font-size="42.4" font-weight="bold" fill="#595959" textLength="70.8" lengthAdjust="spacingAndGlyphs">DÕI</text>
<text x="655.2" y="76.2" font-size="42.4" font-weight="bold" fill="#595959" textLength="54.0" lengthAdjust="spacingAndGlyphs">CA</text>
<text x="725.7" y="76.2" font-size="42.4" font-weight="bold" fill="#595959" textLength="130.7" lengthAdjust="spacingAndGlyphs">NHIỄM</text>
<text x="872.2" y="76.2" font-size="42.4" font-weight="bold" fill="#595959" textLength="84.3" lengthAdjust="spacingAndGlyphs">MỚI</text>
<text x="971.6" y="76.2" font-size="42.4" font-weight="bold" fill="#595959" textLength="187.4" lengthAdjust="spacingAndGlyphs">COVID-19</text>
<text x="1171.7" y="76.2" font-size="42.4" font-weight="bold" fill="#595959" textLength="110.6" lengthAdjust="spacingAndGlyphs">THEO</text>
<text x="1296.2" y="76.2" font-size="42.4" font-weight="bold" fill="#595959" textLength="108.1" lengthAdjust="spacingAndGlyphs">NGÀY</text>
<text x="1414.4" y="76.2" font-size="42.4" font-weight="bold" fill="#595959" textLength="139.1" lengthAdjust="spacingAndGlyphs">TRONG</text>
<text x="1566.9" y="76.2" font-size="42.4" font-weight="bold" fill="#595959" textLength="141.3" lengthAdjust="spacingAndGlyphs">THÁNG</text>
<text x="1722.2" y="76.2" font-size="42.4" font-weight="bold" fill="#595959" textLength="202.5" lengthAdjust="spacingAndGlyphs">9-11/2021</text>
<text x="770.5" y="134.0" font-size="42.4" font-weight="bold" fill="#595959" textLength="57.0" lengthAdjust="spacingAndGlyphs">(từ</text>
<text x="844.0" y="134.0" font-size="42.4" font-weight="bold" fill="#595959" textLength="85.4" lengthAdjust="spacingAndGlyphs">ngày</text>
<text x="945.2" y="134.0" font-size="42.4" font-weight="bold" fill="#595959" textLength="208.7" lengthAdjust="spacingAndGlyphs">27/9/2021</text>
<text x="1169.1" y="134.0" font-size="42.4" font-weight="bold" fill="#595959" textLength="72.9" lengthAdjust="spacingAndGlyphs">đến</text>
<text x="1256.0" y="134.0" font-size="42.4" font-weight="bold" fill="#595959" textLength="84.2" lengthAdjust="spacingAndGlyphs">ngày</text>
<text x="1354.1" y="134.0" font-size="42.4" font-weight="bold" fill="#595959" textLength="252.2" lengthAdjust="spacingAndGlyphs">07/11/2021)</text>
<text x="566.0" y="185.9" font-size="30.6" fill="#1c1c1c" stroke="#1c1c1c" stroke-width="0.5" textLength="182.5" lengthAdjust="spacingAndGlyphs">- Giai đoạn 1</text>
<text x="759.1" y="185.9" font-size="30.6" fill="#1c1c1c" stroke="#1c1c1c" stroke-width="0.5" textLength="45.5" lengthAdjust="spacingAndGlyphs">(từ</text>
<text x="811.9" y="185.9" font-size="30.6" fill="#1c1c1c" stroke="#1c1c1c" stroke-width="0.5" textLength="271.1" lengthAdjust="spacingAndGlyphs">23/01-24/7/2020):</text>
<text x="1092.1" y="185.9" font-size="30.6" fill="#1c1c1c" stroke="#1c1c1c" stroke-width="0.5" textLength="92.6" lengthAdjust="spacingAndGlyphs">415 ca</text>
<text x="1195.3" y="185.9" font-size="30.6" fill="#1c1c1c" stroke="#1c1c1c" stroke-width="0.5" textLength="102.7" lengthAdjust="spacingAndGlyphs">(106 ca</text>
<text x="1308.5" y="185.9" font-size="30.6" fill="#1c1c1c" stroke="#1c1c1c" stroke-width="0.5" textLength="77.5" lengthAdjust="spacingAndGlyphs">trong</text>
<text x="1396.1" y="185.9" font-size="30.6" fill="#1c1c1c" stroke="#1c1c1c" stroke-width="0.5" textLength="77.9" lengthAdjust="spacingAndGlyphs">nước</text>
<text x="1481.0" y="185.9" font-size="30.6" fill="#1c1c1c" stroke="#1c1c1c" stroke-width="0.5" textLength="90.8" lengthAdjust="spacingAndGlyphs">và 309</text>
<text x="1583.6" y="185.9" font-size="30.6" fill="#1c1c1c" stroke="#1c1c1c" stroke-width="0.5" textLength="110.3" lengthAdjust="spacingAndGlyphs">ca nhập</text>
<text x="1705.2" y="185.9" font-size="30.6" fill="#1c1c1c" stroke="#1c1c1c" stroke-width="0.5" textLength="80.5" lengthAdjust="spacingAndGlyphs">cảnh)</text>
<text x="566.0" y="230.1" font-size="30.6" fill="#1c1c1c" stroke="#1c1c1c" stroke-width="0.5" textLength="183.3" lengthAdjust="spacingAndGlyphs">- Giai đoạn 2</text>
<text x="759.1" y="230.1" font-size="30.6" fill="#1c1c1c" stroke="#1c1c1c" stroke-width="0.5" textLength="45.5" lengthAdjust="spacingAndGlyphs">(từ</text>
<text x="811.9" y="230.1" font-size="30.6" fill="#1c1c1c" stroke="#1c1c1c" stroke-width="0.5" textLength="357.2" lengthAdjust="spacingAndGlyphs">25/7/2020-27/01/2021):</text>
<text x="1180.2" y="230.1" font-size="30.6" fill="#1c1c1c" stroke="#1c1c1c" stroke-width="0.5" textLength="117.8" lengthAdjust="spacingAndGlyphs">1.136 ca</text>
<text x="1309.0" y="230.1" font-size="30.6" fill="#1c1c1c" stroke="#1c1c1c" stroke-width="0.5" textLength="102.3" lengthAdjust="spacingAndGlyphs">(554 ca</text>
<text x="1421.8" y="230.1" font-size="30.6" fill="#1c1c1c" stroke="#1c1c1c" stroke-width="0.5" textLength="77.5" lengthAdjust="spacingAndGlyphs">trong</text>
<text x="1509.4" y="230.1" font-size="30.6" fill="#1c1c1c" stroke="#1c1c1c" stroke-width="0.5" textLength="77.5" lengthAdjust="spacingAndGlyphs">nước</text>
<text x="1594.5" y="230.1" font-size="30.6" fill="#1c1c1c" stroke="#1c1c1c" stroke-width="0.5" textLength="91.8" lengthAdjust="spacingAndGlyphs">và 582</text>
<text x="1696.9" y="230.1" font-size="30.6" fill="#1c1c1c" stroke="#1c1c1c" stroke-width="0.5" textLength="110.2" lengthAdjust="spacingAndGlyphs">ca nhập</text>
<text x="1818.4" y="230.1" font-size="30.6" fill="#1c1c1c" stroke="#1c1c1c" stroke-width="0.5" textLength="81.1" lengthAdjust="spacingAndGlyphs">cảnh)</text>
<text x="566.0" y="273.2" font-size="30.6" fill="#1c1c1c" stroke="#1c1c1c" stroke-width="0.5" textLength="183.3" lengthAdjust="spacingAndGlyphs">- Giai đoạn 3</text>
<text x="759.1" y="273.2" font-size="30.6" fill="#1c1c1c" stroke="#1c1c1c" stroke-width="0.5" textLength="45.5" lengthAdjust="spacingAndGlyphs">(từ</text>
<text x="811.9" y="273.2" font-size="30.6" fill="#1c1c1c" stroke="#1c1c1c" stroke-width="0.5" textLength="270.9" lengthAdjust="spacingAndGlyphs">28/01-26/4/2021):</text>
<text x="1093.4" y="273.2" font-size="30.6" fill="#1c1c1c" stroke="#1c1c1c" stroke-width="0.5" textLength="117.6" lengthAdjust="spacingAndGlyphs">1.301 ca</text>
<text x="1221.7" y="273.2" font-size="30.6" fill="#1c1c1c" stroke="#1c1c1c" stroke-width="0.5" textLength="102.7" lengthAdjust="spacingAndGlyphs">(910 ca</text>
<text x="1335.7" y="273.2" font-size="30.6" fill="#1c1c1c" stroke="#1c1c1c" stroke-width="0.5" textLength="77.5" lengthAdjust="spacingAndGlyphs">trong</text>
<text x="1423.0" y="273.2" font-size="30.6" fill="#1c1c1c" stroke="#1c1c1c" stroke-width="0.5" textLength="77.5" lengthAdjust="spacingAndGlyphs">nước</text>
<text x="1508.4" y="273.2" font-size="30.6" fill="#1c1c1c" stroke="#1c1c1c" stroke-width="0.5" textLength="92.3" lengthAdjust="spacingAndGlyphs">và 391</text>
<text x="1612.1" y="273.2" font-size="30.6" fill="#1c1c1c" stroke="#1c1c1c" stroke-width="0.5" textLength="109.4" lengthAdjust="spacingAndGlyphs">ca nhập</text>
<text x="1732.9" y="273.2" font-size="30.6" fill="#1c1c1c" stroke="#1c1c1c" stroke-width="0.5" textLength="80.5" lengthAdjust="spacingAndGlyphs">cảnh)</text>
<text x="566.0" y="316.9" font-size="30.6" fill="#1c1c1c" stroke="#1c1c1c" stroke-width="0.5" textLength="183.3" lengthAdjust="spacingAndGlyphs">- Giai đoạn 4</text>
<text x="759.1" y="316.9" font-size="30.6" fill="#1c1c1c" stroke="#1c1c1c" stroke-width="0.5" textLength="45.5" lengthAdjust="spacingAndGlyphs">(từ</text>
<text x="811.9" y="316.9" font-size="30.6" fill="#1c1c1c" stroke="#1c1c1c" stroke-width="0.5" textLength="175.7" lengthAdjust="spacingAndGlyphs">27/4/2021):</text>
<text x="993.9" y="316.9" font-size="30.6" fill="#1c1c1c" stroke="#1c1c1c" stroke-width="0.5" textLength="156.8" lengthAdjust="spacingAndGlyphs">965.832 ca</text>
<text x="1161.3" y="316.9" font-size="30.6" fill="#1c1c1c" stroke="#1c1c1c" stroke-width="0.5" textLength="166.9" lengthAdjust="spacingAndGlyphs">(963.757 ca</text>
<text x="1338.7" y="316.9" font-size="30.6" fill="#1c1c1c" stroke="#1c1c1c" stroke-width="0.5" textLength="77.5" lengthAdjust="spacingAndGlyphs">trong</text>
<text x="1426.1" y="316.9" font-size="30.6" fill="#1c1c1c" stroke="#1c1c1c" stroke-width="0.5" textLength="77.5" lengthAdjust="spacingAndGlyphs">nước</text>
<text x="1511.5" y="316.9" font-size="30.6" fill="#1c1c1c" stroke="#1c1c1c" stroke-width="0.5" textLength="118.7" lengthAdjust="spacingAndGlyphs">và 2.075</text>
<text x="1640.8" y="316.9" font-size="30.6" fill="#1c1c1c" stroke="#1c1c1c" stroke-width="0.5" textLength="109.7" lengthAdjust="spacingAndGlyphs">ca nhập</text>
<text x="1761.8" y="316.9" font-size="30.6" fill="#1c1c1c" stroke="#1c1c1c" stroke-width="0.5" textLength="81.3" lengthAdjust="spacingAndGlyphs">cảnh)</text>
<g id="logo">
<path d="M122.31,63.16 A73.4,73.4 0 0 0 105.94,160.98" fill="none" stroke="#dcdef0" stroke-width="14.5"/>
<path d="M212.69,63.16 A73.4,73.4 0 0 1 229.06,160.98" fill="none" stroke="#dcdef0" stroke-width="14.5"/>
<path d="M126.13,68.05 A67.20,67.20 0 0 0 111.14,157.60" fill="none" stroke="#a9adcf" stroke-width="1.9"/>
<path d="M208.87,68.05 A67.20,67.20 0 0 1 223.86,157.60" fill="none" stroke="#a9adcf" stroke-width="1.9"/>
<path d="M124.16,65.52 A70.40,70.40 0 0 0 108.46,159.34" fill="none" stroke="#a9adcf" stroke-width="1.9"/>
<path d="M210.84,65.52 A70.40,70.40 0 0 1 226.54,159.34" fill="none" stroke="#a9adcf" stroke-width="1.9"/>
<path d="M122.19,63.00 A73.60,73.60 0 0 0 105.77,161.09" fill="none" stroke="#a9adcf" stroke-width="1.9"/>
<path d="M212.81,63.00 A73.60,73.60 0 0 1 229.23,161.09" fill="none" stroke="#a9adcf" stroke-width="1.9"/>
<path d="M120.22,60.48 A76.80,76.80 0 0 0 103.09,162.83" fill="none" stroke="#a9adcf" stroke-width="1.9"/>
<path d="M214.78,60.48 A76.80,76.80 0 0 1 231.91,162.83" fill="none" stroke="#a9adcf" stroke-width="1.9"/>
<path d="M118.49,58.27 A79.60,79.60 0 0 0 100.74,164.35" fill="none" stroke="#a9adcf" stroke-width="1.9"/>
<path d="M216.51,58.27 A79.60,79.60 0 0 1 234.26,164.35" fill="none" stroke="#a9adcf" stroke-width="1.9"/>
<clipPath id="disc"><ellipse cx="167.5" cy="121.2" rx="61.8" ry="64.8"/></clipPath>
<g clip-path="url(#disc)">
<rect x="100" y="50" width="140" height="33.2" fill="#ee1c25"/>
<rect x="100" y="84.6" width="140" height="110" fill="#2e3192"/>
</g>
<polygon points="167.80,63.60 169.43,67.96 174.08,68.16 170.44,71.06 171.68,75.54 167.80,72.97 163.92,75.54 165.16,71.06 161.52,68.16 166.17,67.96" fill="#ffd21f"/>
<path d="M164.3,96 Q164.3,93 167.6,93 Q170.9,93 170.9,96 L169.9,184 L165.3,184 Z" fill="#f4f1fb"/>
<path d="M161,116.5 C166,109.5 180,109 184,119 C187,129.5 173,130.5 167.6,132.5 C161,134.5 154.5,136 156,142.5 C157.5,149 163.5,150.5 167.6,152.5 C172,154.5 178.5,155 177,160 C175.5,163.5 170.5,163 167.6,164.2 C164,165.5 160.5,166.5 162.2,169.2 C163.5,171.2 166,171.6 168.2,172.4" fill="none" stroke="#f4f1fb" stroke-width="3.9" stroke-linecap="round"/>
<g transform="translate(153.6,121.6) rotate(-45)"><ellipse cx="0" cy="0" rx="10.6" ry="3.7" fill="#f4f1fb"/><path d="M-7,0.4 L6,0.2" stroke="#2e3192" stroke-width="1"/><path d="M-10,0 L-14.5,0.3" stroke="#f4f1fb" stroke-width="1.3"/></g>
<path d="M170.5,174 L173.5,176.5 L173.5,179.5" fill="none" stroke="#f4f1fb" stroke-width="1.3"/>
<path id="arcTop" d="M103.98,97.88 A67.60,67.60 0 0 1 231.02,97.88" fill="none"/>
<text font-size="15.5" font-weight="bold" fill="#3d4d86" letter-spacing="1.6"><textPath href="#arcTop" startOffset="50%" text-anchor="middle">BỘ Y TẾ</textPath></text>
<path id="arcBot" d="M92.14,148.43 A80.20,80.20 0 0 0 242.86,148.43" fill="none"/>
<text font-size="10.6" font-weight="bold" font-style="italic" fill="#3a4066"><textPath href="#arcBot" startOffset="50%" text-anchor="middle" textLength="134" lengthAdjust="spacingAndGlyphs">MINISTRY OF HEALTH</textPath></text>
</g>
</g>
<rect x="0" y="0" width="1.3" height="1260" fill="#454545"/>
<rect x="0" y="1257.6" width="2106" height="2.4" fill="#262626"/>
</svg>
</body></html>
